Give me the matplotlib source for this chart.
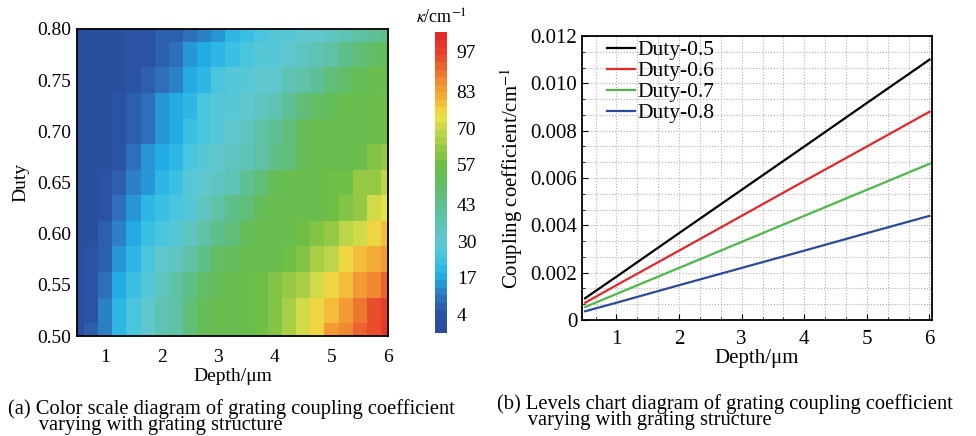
import matplotlib
matplotlib.use("Agg")
import matplotlib.pyplot as plt
from matplotlib.colors import LinearSegmentedColormap
from matplotlib.ticker import AutoMinorLocator, MultipleLocator

plt.rcParams['font.family'] = ['Liberation Serif', 'DejaVu Serif']
plt.rcParams['mathtext.fontset'] = 'stix'

# (a) heatmap grid: depth (um) x duty
depth = [0.5, 0.75, 1.0, 1.25, 1.5, 1.75, 2.0, 2.25, 2.5, 2.75, 3.0, 3.25,
         3.5, 3.75, 4.0, 4.25, 4.5, 4.75, 5.0, 5.25, 5.5, 5.75, 6.0]
duty = [0.5, 0.525, 0.55, 0.575, 0.6, 0.625, 0.65, 0.675, 0.7, 0.725, 0.75, 0.775, 0.8]

# coupling coefficient kappa (cm^-1), one row per duty (bottom to top)
kappa = [
    [2, 6, 12, 19, 25, 30, 35, 40, 46, 51, 54, 55, 56, 58, 61, 65, 70, 77, 83, 88, 91, 96, 100],
    [2, 4, 11, 19, 25, 30, 35, 40, 46, 52, 54, 55, 55, 58, 61, 65, 70, 75, 80, 85, 89, 94, 98],
    [2, 3, 9, 17, 23, 28, 33, 38, 43, 49, 53, 55, 55, 57, 60, 63, 66, 71, 75, 80, 84, 88, 92],
    [2, 3, 8, 15, 21, 25, 30, 34, 38, 43, 49, 53, 55, 55, 56, 58, 61, 65, 69, 75, 80, 82, 85],
    [2, 2, 6, 12, 18, 22, 26, 29, 33, 38, 43, 48, 52, 54, 55, 56, 57, 60, 64, 68, 72, 75, 80],
    [1, 2, 4, 9, 15, 19, 23, 26, 29, 33, 38, 43, 48, 52, 54, 55, 55, 56, 58, 60, 63, 70, 73],
    [1, 2, 3, 7, 11, 16, 20, 24, 27, 30, 33, 37, 42, 47, 51, 54, 56, 56, 57, 57, 62, 64, 67],
    [1, 1, 2, 5, 9, 14, 18, 21, 25, 28, 30, 33, 36, 40, 44, 48, 52, 54, 55, 55, 56, 59, 62],
    [1, 1, 2, 3, 6, 10, 15, 18, 22, 26, 28, 31, 34, 38, 42, 47, 51, 54, 55, 55, 56, 56, 57],
    [1, 1, 2, 4, 7, 10, 14, 17, 21, 25, 27, 29, 31, 34, 37, 41, 46, 50, 53, 55, 56, 56, 57],
    [1, 1, 2, 2, 4, 6, 9, 13, 17, 21, 25, 27, 28, 30, 32, 35, 38, 42, 46, 50, 53, 55, 56],
    [1, 1, 2, 2, 3, 5, 7, 10, 14, 18, 21, 24, 26, 27, 29, 31, 34, 37, 40, 43, 46, 49, 51],
    [1, 1, 2, 2, 3, 4, 6, 7, 10, 13, 16, 20, 23, 25, 27, 29, 30, 32, 34, 36, 38, 41, 44],
]
cbar_ticks = [4, 17, 30, 43, 57, 70, 83, 97]

# (b) coupling coefficient vs depth for each duty
depth_b = [0.5, 1, 2, 3, 4, 5, 6]
duty_05 = [0.00092, 0.00183, 0.00367, 0.0055, 0.00733, 0.00917, 0.0110]
duty_06 = [0.00073, 0.00147, 0.00293, 0.0044, 0.00587, 0.00733, 0.0088]
duty_07 = [0.00055, 0.0011, 0.0022, 0.0033, 0.0044, 0.0055, 0.0066]
duty_08 = [0.00037, 0.00073, 0.00147, 0.0022, 0.00293, 0.00367, 0.0044]
line_labels = ['Duty-0.5', 'Duty-0.6', 'Duty-0.7', 'Duty-0.8']

vmin, vmax = -2.5, 104
anchors = [(-2.5, '#2a4a9a'), (4, '#2b55a6'), (10, '#2e78bf'), (17, '#22aee6'),
           (24, '#45c6e0'), (30, '#60c7cf'), (37, '#5fc2ad'), (43, '#5ebf8e'),
           (50, '#63bd63'), (57, '#6bbd45'), (63, '#95c945'), (70, '#c8d84a'),
           (75, '#ece445'), (80, '#f4b83a'), (85, '#f29a35'), (90, '#ee7a30'),
           (97, '#e8452b'), (104, '#e52a28')]
cmap = LinearSegmentedColormap.from_list(
    'kappa', [((v - vmin) / (vmax - vmin), c) for v, c in anchors], N=40)

W, H = 976, 436
fig = plt.figure(figsize=(W / 100, H / 100), dpi=100, facecolor='w')

def px_axes(l, t, r, b):
    return fig.add_axes([l / W, 1 - b / H, (r - l) / W, (b - t) / H])

# ---- (a) colour map
ax1 = px_axes(77, 29, 388, 336)
mesh = ax1.pcolormesh(depth, duty, kappa, cmap=cmap, vmin=vmin, vmax=vmax,
                      shading='nearest')
ax1.set_xlim(0.5, 6)
ax1.set_ylim(0.5, 0.8)
ax1.set_xticks([1, 2, 3, 4, 5, 6])
ax1.set_yticks([0.5, 0.55, 0.6, 0.65, 0.7, 0.75, 0.8])
ax1.set_yticklabels(['%.2f' % v for v in [0.5, 0.55, 0.6, 0.65, 0.7, 0.75, 0.8]])
ax1.tick_params(length=0, labelsize=14, pad=4)
ax1.tick_params(axis='x', pad=9)
ax1.set_xlabel('Depth/\u03bcm', fontsize=14, labelpad=2)
ax1.set_ylabel('Duty', fontsize=14, labelpad=6)
for s in ax1.spines.values():
    s.set_linewidth(1.3)

cax = px_axes(435, 32, 447, 333)
cb = fig.colorbar(mesh, cax=cax, ticks=cbar_ticks)
cb.outline.set_visible(False)
cax.tick_params(length=0, labelsize=14, pad=7)
cax.set_title(r'$\kappa$/cm$^{-1}$', fontsize=13, pad=6)

# ---- (b) line chart
ax2 = px_axes(582, 36, 932, 320)
colors = ['black', '#e8262a', '#4cb848', '#2a4aa0']
for ys, c, lab in zip([duty_05, duty_06, duty_07, duty_08], colors, line_labels):
    ax2.plot(depth_b, ys, color=c, lw=1.6, label=lab)
ax2.set_xlim(0.45, 6.04)
ax2.set_ylim(0, 0.012)
ax2.xaxis.set_major_locator(MultipleLocator(1))
ax2.yaxis.set_major_locator(MultipleLocator(0.002))
ax2.xaxis.set_minor_locator(AutoMinorLocator(3))
ax2.yaxis.set_minor_locator(AutoMinorLocator(3))
ax2.set_yticklabels(['0' if v == 0 else '%.3f' % v for v in ax2.get_yticks()])
ax2.grid(which='both', color='#b0b0b0', linestyle=':', linewidth=0.8)
ax2.tick_params(which='both', direction='in', labelsize=15)
ax2.tick_params(which='major', length=4)
ax2.tick_params(which='minor', length=2)
ax2.tick_params(axis='x', pad=7)
ax2.set_xlabel('Depth/\u03bcm', fontsize=15, labelpad=0)
ax2.set_ylabel('Coupling coefficient/cm$^{-1}$', fontsize=15, labelpad=4)
for s in ax2.spines.values():
    s.set_linewidth(1.3)
ax2.legend(loc='upper left', bbox_to_anchor=(25 / 350, 0.986), frameon=False,
           fontsize=15.5, handlelength=1.3, handletextpad=0.1,
           labelspacing=0.05, borderaxespad=0, borderpad=0)

# captions (second line indented with spaces)
cap = dict(fontsize=14.8, va='center', ha='left', linespacing=0.82)
fig.text(8 / W, 1 - 417 / H,
         '(a) Color scale diagram of grating coupling coefficient\n'
         '      varying with grating structure', **cap)
fig.text(497 / W, 1 - 412 / H,
         '(b) Levels chart diagram of grating coupling coefficient\n'
         '      varying with grating structure', **cap)

fig.savefig('out.png', dpi=100)
